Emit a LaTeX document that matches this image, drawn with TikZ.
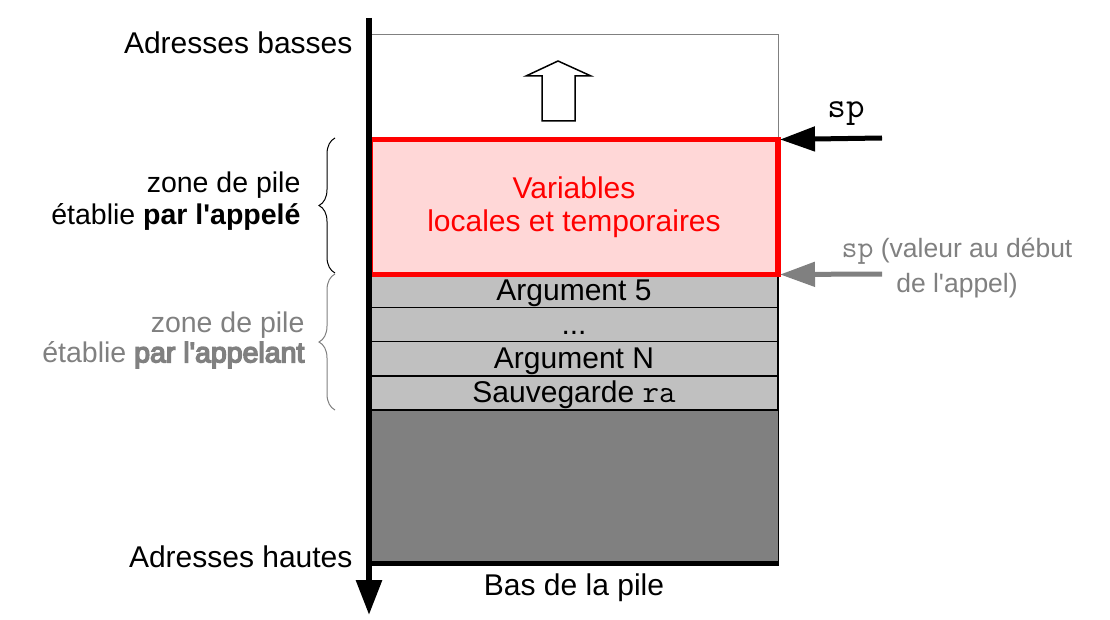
\documentclass[tikz,border=0pt]{standalone}
\usepackage{fontspec}
\setmainfont{Liberation Sans}
\newfontface\grasfaux{Liberation Sans}[FakeBold=5]
\usetikzlibrary{arrows.meta,decorations.pathreplacing}
\definecolor{white}{RGB}{255,255,255}
\definecolor{black}{RGB}{0,0,0}
\definecolor{rouge}{RGB}{255,0,0}
\definecolor{rose_clair}{RGB}{255,215,215}
\definecolor{gris_clair}{RGB}{192,192,192}
\definecolor{gris_fonce}{RGB}{128,128,128}
\newcommand{\code}[2][34]{{\ttfamily\fontsize{#1}{32}\selectfont #2}}

\begin{document}
\begin{tikzpicture}[x=1pt,y=-1pt,font=\fontsize{30}{32}\selectfont,
	cellule/.style={rectangle,draw=black,line width=1.5pt,fill=gris_clair,minimum width=408pt,minimum height=34.25pt,inner sep=0pt,text height=22pt,text depth=2pt},
	fleche/.style={line width=5pt,-{Triangle[length=35pt,width=24pt]}},
	accolade/.style={decorate,decoration={brace,amplitude=16pt},line width=1pt}]
	\useasboundingbox (0,0) rectangle (1110,620);
	
	\node[rectangle,draw=gris_fonce,line width=1pt,minimum width=408pt,minimum height=103pt,inner sep=0pt] (libre) at (574,86.5) {};
	\node[cellule] (arg5) at (574,290.125) {Argument 5};
	\node[cellule] (points) at (574,324.375) {...};
	\node[cellule] (argN) at (574,358.625) {Argument N};
	\node[cellule] (ra) at (574,392.875) {Sauvegarde \code[32]{ra}};
	\node[rectangle,draw=black,line width=1pt,fill=gris_fonce,minimum width=408pt,minimum height=153pt,inner sep=0pt] (fond) at (574,486.5) {};
	\node[rectangle,draw=rouge,line width=5.5pt,outer sep=0pt,fill=rose_clair,text=rouge,align=center,minimum width=408pt,minimum height=135pt,inner sep=0pt,font=\fontsize{30}{33}\selectfont] (variables) at (574,207) {Variables\\locales et temporaires};
	
	\draw[black,line width=1.5pt] (542,121) -- (542,76) -- (526,76) -- (558,61) -- (591,76) -- (575,76) -- (575,121) -- cycle;
	
	\coordinate (haut) at (369,18);
	\coordinate (bas) at (369,615);
	\draw[black,line width=6pt,-{Triangle[length=35pt,width=25pt]}] (haut) -- (bas);
	\draw[black,line width=5pt] (fond.south west) -- (fond.south east);
	
	\node[anchor=east] (basses) at (356,43) {Adresses basses};
	\node[anchor=east] (hautes) at (356,557) {Adresses hautes};
	\node (pile) at (574,588) {Bas de la pile};
	
	\coordinate (sp1) at (882,138);
	\coordinate (sp2) at (882,274);
	\draw[fleche,black] (sp1) -- ([xshift=2pt]variables.north east);
	\draw[fleche,gris_fonce] (sp2) -- ([xshift=2pt]variables.south east);
	\node (splabel) at (846,114) {\code[36]{sp}};
	\node[text=gris_fonce,align=center,font=\fontsize{26.5}{35}\selectfont] (spdebut) at (957,268) {\code[31]{sp} (valeur au début\\de l\textquotesingle appel)};
	
	\draw[accolade,black] (335,273) -- (335,138);
	\draw[accolade,gris_fonce] (335,410) -- (335,274);
	\node[anchor=east,align=right,font=\fontsize{28.5}{32}\selectfont] (appele) at (304,201) {zone de pile\\établie \textbf{par l\textquotesingle appelé}};
	\node[anchor=east,align=right,text=gris_fonce,font=\fontsize{28.5}{30}\selectfont] (appelant) at (308,340) {zone de pile\\établie {\grasfaux par l\textquotesingle appelant}};
\end{tikzpicture}
\end{document}
